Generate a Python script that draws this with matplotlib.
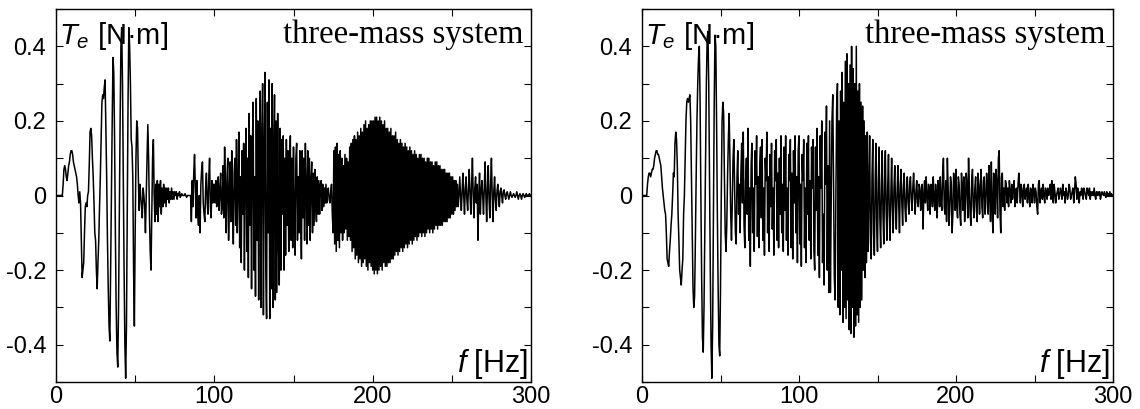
import numpy as np
import matplotlib
matplotlib.use("Agg")
import matplotlib.pyplot as plt
from matplotlib.ticker import MultipleLocator

plt.rcParams['path.simplify'] = False
plt.rcParams['font.family'] = ['Liberation Sans', 'DejaVu Sans']
plt.rcParams['mathtext.fontset'] = 'custom'
plt.rcParams['mathtext.rm'] = 'Liberation Sans'
plt.rcParams['mathtext.it'] = 'Liberation Sans:italic'

# ---- data: electromagnetic torque Te [N·m] sampled every 0.5 Hz, 0..300 Hz ----
left_T = [
    # 0-10
    0, 0, 0, 0, 0, 0, 0, 0, 0, 0.03, 0.07, 0.08, 0.07, 0.05, 0.04, 0.06, 0.08, 0.09, 0.11, 0.12,
    # 10-20
    0.12, 0.11, 0.09, 0.08, 0.07, 0.06, 0.05, 0.03, 0.0, -0.02, 0.01, -0.02, -0.12, -0.22, -0.2, -0.18, -0.1, -0.03, -0.02, -0.03,
    # 20-30
    0.0, 0.01, 0.08, 0.17, 0.18, 0.16, 0.1, 0.05, -0.02, -0.1, -0.12, -0.2, -0.25, -0.18, -0.12, -0.03, 0.05, 0.15, 0.25, 0.27,
    # 30-40
    0.26, 0.29, 0.31, 0.18, 0.05, -0.12, -0.25, -0.35, -0.39, -0.2, 0.0, 0.2, 0.37, 0.33, 0.15, -0.1, -0.3, -0.42, -0.46, -0.3,
    # 40-50
    -0.05, 0.2, 0.4, 0.45, 0.3, 0.05, -0.2, -0.4, -0.49, -0.35, -0.05, 0.25, 0.45, 0.4, 0.3, 0.15, 0.13, 0.05, -0.2, -0.35,
    # 50-60
    -0.1, 0.1, 0.2, 0.18, 0.05, -0.04, 0.03, 0.0, -0.03, -0.06, 0.02, 0.0, -0.03, -0.1, 0.0, 0.1, 0.19, 0.1, -0.05, -0.15,
    # 60-70
    -0.2, -0.05, 0.1, 0.15, 0.0, -0.07, 0.03, -0.05, 0.04, -0.07, 0.03, -0.03, 0.04, -0.05, 0.02, -0.03, 0.03, -0.02, 0.02, -0.03,
    # 70-80
    0.02, -0.01, 0.02, -0.02, 0.01, -0.01, 0.02, -0.01, 0.01, -0.01, 0.01, 0.0, 0.01, -0.01, 0.005, 0.0, 0.01, -0.005, 0.0, 0.005,
    # 80-90
    0, 0, 0, 0.005, 0, -0.005, 0, 0, 0, 0, 0, -0.07, 0.04, -0.03, 0.06, 0.11, 0.02, -0.06, 0.04, -0.05,
    # 90-100
    -0.08, 0.0, -0.1, 0.03, 0.07, 0.09, -0.02, -0.05, -0.07, 0.02, 0.06, -0.02, -0.05, 0.05, 0.1, -0.03, -0.06, 0.04, -0.02, 0.03,
    # 100-110
    0.03, -0.02, 0.04, -0.03, 0.02, 0.05, -0.04, 0.01, 0.06, -0.05, -0.03, 0.08, -0.06, 0.13, 0.02, -0.1, 0.05, 0.1, -0.12, 0.0,
    # 110-120
    0.09, -0.07, 0.12, -0.02, -0.13, 0.06, 0.1, -0.08, 0.15, -0.1, 0.03, 0.17, -0.14, 0.05, -0.18, 0.12, -0.05, 0.14, -0.2, 0.08,
    # 120-130
    0.18, -0.15, 0.1, -0.22, 0.22, -0.08, 0.16, -0.25, 0.12, 0.25, -0.2, 0.05, -0.27, 0.26, -0.12, 0.2, -0.28, 0.1, 0.28, -0.3,
    # 130-140
    0.15, 0.3, -0.32, 0.12, 0.33, -0.2, -0.33, 0.25, -0.1, 0.31, -0.33, 0.18, -0.25, 0.3, -0.3, 0.1, 0.27, -0.28, 0.2, -0.26,
    # 140-150
    0.22, -0.12, -0.24, 0.18, -0.2, 0.15, -0.05, 0.16, -0.2, 0.1, -0.16, 0.15, -0.08, 0.12, -0.15, 0.04, 0.16, -0.12, 0.1, -0.14,
    # 150-160
    0.13, -0.05, -0.16, 0.1, 0.14, -0.12, 0.05, -0.1, 0.12, -0.04, -0.17, 0.12, -0.06, 0.1, -0.12, 0.14, 0.02, -0.13, 0.12, -0.08,
    # 160-170
    0.1, -0.12, 0.04, 0.09, -0.1, 0.06, -0.08, 0.07, -0.03, -0.07, 0.05, -0.05, 0.04, -0.05, 0.03, 0.04, -0.04, 0.03, -0.03, 0.02,
    # 170-180
    -0.02, 0.03, -0.02, 0.01, 0.02, -0.01, -0.02, 0.01, 0.03, -0.05, -0.1, 0.12, -0.13, 0.13, -0.15, 0.14, -0.12, 0.11, -0.14, 0.12,
    # 180-190
    -0.1, 0.1, -0.12, 0.08, -0.1, 0.11, -0.09, 0.1, -0.12, 0.09, -0.11, 0.13, -0.12, 0.14, -0.15, 0.15, -0.14, 0.16, -0.17, 0.15,
    # 190-200
    -0.16, 0.17, -0.18, 0.16, -0.17, 0.18, -0.19, 0.17, -0.18, 0.19, -0.17, 0.2, -0.19, 0.18, -0.2, 0.19, -0.18, 0.2, -0.19, 0.2,
    # 200-210
    -0.2, 0.2, -0.21, 0.21, -0.2, 0.21, -0.21, 0.2, -0.2, 0.21, -0.19, 0.2, -0.2, 0.19, -0.18, 0.2, -0.19, 0.18, -0.19, 0.18,
    # 210-220
    -0.18, 0.17, -0.18, 0.18, -0.17, 0.16, -0.17, 0.16, -0.16, 0.17, -0.15, 0.15, -0.16, 0.14, -0.15, 0.15, -0.14, 0.14, -0.15, 0.13,
    # 220-230
    -0.14, 0.14, -0.13, 0.13, -0.14, 0.12, -0.13, 0.13, -0.12, 0.12, -0.13, 0.11, -0.12, 0.12, -0.11, 0.11, -0.12, 0.1, -0.11, 0.11,
    # 230-240
    -0.1, 0.11, -0.11, 0.1, -0.1, 0.1, -0.11, 0.09, -0.1, 0.1, -0.09, 0.1, -0.1, 0.09, -0.09, 0.09, -0.1, 0.08, -0.09, 0.09,
    # 240-250
    -0.08, 0.09, -0.09, 0.08, -0.08, 0.08, -0.08, 0.07, -0.08, 0.07, -0.07, 0.07, -0.07, 0.06, -0.07, 0.06, -0.06, 0.06, -0.06, 0.05,
    # 250-260
    -0.05, 0.05, -0.05, 0.04, -0.04, 0.04, -0.03, 0.03, -0.03, 0.0, 0.05, 0.0, -0.04, 0.01, 0.06, 0.0, -0.05, 0.02, 0.05, -0.01,
    # 260-270
    -0.04, 0.02, 0.07, 0.0, -0.05, 0.03, 0.1, 0.0, -0.06, 0.02, 0.05, -0.02, 0.03, -0.12, 0.0, 0.06, -0.05, 0.01, 0.04, 0.0,
    # 270-280
    -0.05, 0.02, 0.09, 0.0, -0.07, 0.02, 0.08, -0.01, -0.06, 0.03, 0.1, 0.0, -0.07, 0.01, 0.05, -0.01, -0.04, 0.01, 0.03, 0.0,
    # 280-290
    -0.03, 0.01, 0.02, 0.0, -0.02, 0.01, 0.015, 0.0, -0.01, 0.005, 0.01, 0.0, -0.01, 0.0, 0.01, 0.0, -0.005, 0.0, 0.005, 0.0,
    # 290-300
    -0.005, 0.0, 0.01, 0.0, -0.01, 0.0, 0.005, 0.0, -0.01, 0.0, 0.005, 0.0, -0.005, 0.0, 0.005, 0.0, 0.0, 0.0, 0.005, 0.0,
    0.0,
]

right_T = [
    # 0-10
    0, 0, 0, 0, 0, 0, 0, 0.03, 0.05, 0.06, 0.06, 0.05, 0.06, 0.07, 0.07, 0.08, 0.1, 0.11, 0.12, 0.12,
    # 10-20
    0.11, 0.11, 0.1, 0.09, 0.08, 0.05, 0.02, 0.0, -0.02, -0.04, -0.05, -0.1, -0.17, -0.18, -0.19, -0.15, -0.12, -0.08, -0.05, 0.0,
    # 20-30
    0.06, 0.05, 0.14, 0.17, 0.15, 0.08, -0.05, -0.12, -0.2, -0.22, -0.24, -0.2, -0.17, -0.05, 0.0, 0.1, 0.2, 0.25, 0.26, 0.25,
    # 30-40
    0.26, 0.27, 0.2, 0.05, -0.1, -0.25, -0.3, -0.27, -0.12, 0.05, 0.2, 0.3, 0.37, 0.4, 0.25, 0.0, -0.22, -0.38, -0.42, -0.3,
    # 40-50
    -0.1, 0.1, 0.3, 0.42, 0.44, 0.3, 0.05, -0.2, -0.4, -0.49, -0.35, -0.05, 0.25, 0.43, 0.4, 0.2, -0.05, -0.25, -0.4, -0.43,
    # 50-60
    -0.25, 0.0, 0.2, 0.25, 0.22, 0.05, -0.1, -0.15, -0.08, 0.05, 0.15, 0.22, 0.1, -0.05, -0.12, -0.02, 0.1, 0.15, 0.02, -0.1,
    # 60-70
    -0.13, 0.05, 0.12, -0.05, 0.03, -0.1, 0.06, 0.14, -0.02, 0.17, -0.08, -0.14, 0.04, 0.1, -0.05, 0.18, -0.12, 0.02, -0.19, 0.08,
    # 70-80
    0.14, -0.1, 0.02, -0.15, 0.12, 0.03, 0.16, -0.11, 0.05, -0.14, 0.08, 0.13, -0.06, 0.15, -0.12, 0.02, -0.16, 0.1, 0.04, 0.17,
    # 80-90
    -0.1, 0.05, -0.15, 0.11, -0.03, 0.14, -0.09, 0.02, -0.16, 0.12, 0.04, 0.15, -0.12, 0.06, -0.14, 0.1, -0.05, 0.16, -0.1, 0.03,
    # 90-100
    -0.15, 0.13, -0.04, 0.16, -0.12, 0.02, -0.16, 0.11, 0.04, 0.15, -0.14, 0.06, -0.17, 0.12, -0.02, 0.16, -0.1, 0.05, -0.18, 0.12,
    # 100-110
    0.16, -0.13, 0.03, -0.19, 0.11, 0.04, 0.15, -0.14, 0.02, -0.18, 0.14, -0.05, 0.16, -0.12, 0.04, -0.17, 0.13, 0.02, 0.15, -0.15,
    # 110-120
    -0.2, 0.13, -0.04, 0.18, -0.16, 0.05, -0.22, 0.16, 0.02, 0.2, -0.18, -0.05, -0.24, 0.17, 0.03, 0.24, -0.2, 0.08, -0.26, 0.2,
    # 120-130
    -0.26, -0.02, 0.2, 0.27, 0.04, -0.22, -0.28, 0.0, 0.24, 0.3, -0.3, 0.2, -0.32, 0.28, -0.2, 0.33, -0.34, 0.25, -0.3, 0.36,
    # 130-140
    -0.33, 0.38, -0.28, 0.3, -0.36, 0.35, -0.37, 0.4, -0.3, 0.34, -0.38, 0.3, -0.35, 0.4, -0.32, 0.28, -0.34, 0.3, -0.3, 0.25,
    # 140-150
    -0.28, 0.24, -0.2, 0.2, -0.22, 0.16, -0.18, 0.17, -0.15, 0.02, 0.16, -0.12, -0.17, 0.05, 0.15, -0.1, -0.16, 0.03, 0.14, -0.08,
    # 150-160
    -0.15, 0.04, 0.13, -0.06, -0.14, 0.02, 0.12, -0.05, -0.13, 0.03, 0.12, -0.04, -0.12, 0.02, 0.11, -0.05, -0.12, 0.0, 0.1, -0.03,
    # 160-170
    -0.1, 0.02, 0.08, -0.03, -0.09, 0.01, 0.08, -0.02, -0.1, 0.03, 0.07, -0.02, -0.08, 0.02, 0.06, -0.03, -0.07, 0.01, 0.05, -0.02,
    # 170-180
    -0.05, 0.03, 0.05, -0.01, -0.04, 0.02, 0.06, 0.0, -0.05, 0.01, 0.04, -0.02, -0.03, 0.03, 0.02, -0.04, 0.01, 0.03, -0.09, 0.0,
    # 180-190
    0.04, -0.02, 0.05, 0.0, -0.04, 0.03, 0.02, -0.05, 0.03, 0.01, -0.03, 0.05, -0.01, -0.04, 0.03, 0.0, -0.06, 0.04, 0.02, -0.03,
    # 190-200
    0.05, -0.02, -0.04, 0.06, 0.1, -0.03, -0.05, 0.04, -0.07, 0.1, 0.02, -0.08, -0.04, 0.05, 0.03, -0.1, -0.05, 0.06, 0.02, -0.04,
    # 200-210
    0.07, -0.03, -0.06, 0.05, 0.03, -0.05, -0.08, 0.06, 0.02, -0.04, 0.05, -0.07, -0.02, 0.06, 0.03, -0.06, 0.1, 0.02, -0.05, -0.08,
    # 210-220
    0.04, 0.07, -0.03, -0.06, 0.02, 0.05, -0.04, -0.07, 0.06, 0.03, -0.05, 0.02, 0.07, -0.03, -0.06, 0.04, 0.05, -0.05, -0.02, 0.06,
    # 220-230
    0.02, -0.05, 0.08, 0.0, -0.07, 0.09, -0.03, -0.1, 0.06, 0.04, -0.05, 0.07, 0.03, -0.06, 0.1, 0.12, -0.04, -0.1, 0.05, 0.06,
    # 230-240
    -0.03, 0.02, -0.04, 0.04, 0.03, -0.02, 0.02, -0.03, 0.04, 0.01, -0.02, 0.03, -0.01, 0.02, 0.04, -0.03, 0.01, 0.02, -0.02, 0.03,
    # 240-250
    0.06, 0.02, -0.02, 0.03, 0.01, -0.03, 0.02, 0.03, -0.01, 0.01, 0.02, -0.02, 0.03, 0.0, -0.03, 0.02, 0.01, -0.02, 0.03, 0.01,
    # 250-260
    -0.02, 0.02, 0.01, -0.03, -0.05, 0.03, 0.04, -0.02, 0.01, 0.02, -0.01, 0.03, 0.0, -0.02, 0.02, 0.01, -0.01, 0.02, 0.0, 0.01,
    # 260-270
    0.03, -0.01, 0.04, 0.0, -0.02, 0.03, 0.01, -0.02, 0.0, 0.01, 0.02, -0.01, 0.0, 0.02, 0.01, -0.01, 0.03, 0.0, 0.01, -0.02,
    # 270-280
    0.02, 0.01, -0.01, 0.0, 0.03, 0.02, -0.01, 0.0, 0.01, 0.02, -0.02, 0.01, 0.05, 0.03, -0.01, 0.02, 0.0, -0.02, 0.01, 0.0,
    # 280-290
    0.02, 0.01, -0.01, 0.02, 0.01, 0.0, -0.01, 0.02, 0.01, 0.0, 0.02, -0.01, 0.01, 0.0, 0.01, 0.0, 0.02, 0.0, -0.01, 0.01,
    # 290-300
    0.0, 0.01, 0.0, 0.01, -0.01, 0.0, 0.01, 0.005, 0.0, 0.01, 0.0, -0.005, 0.01, 0.0, 0.005, 0.0, 0.01, 0.0, 0.005, 0.0,
    0.0,
]

f_min, f_max = 0, 300
y_ticks = [-0.4, -0.2, 0.0, 0.2, 0.4]
y_ticklabels = ['-0.4', '-0.2', '0', '0.2', '0.4']
x_ticks = [0, 100, 200, 300]
x_ticklabels = ['0', '100', '200', '300']
panel_title = 'three-mass system'

fig = plt.figure(figsize=(11.4, 4.09), dpi=100)
axes_rects = [
    [56 / 1140, 27 / 409, 475 / 1140, 373 / 409],
    [642 / 1140, 27 / 409, 471 / 1140, 373 / 409],
]

for rect, series in zip(axes_rects, [left_T, right_T]):
    ax = fig.add_axes(rect)
    freq = np.linspace(f_min, f_max, len(series))
    ax.plot(freq, series, color='black', linewidth=1.1)
    ax.set_xlim(f_min, f_max)
    ax.set_ylim(-0.5, 0.5)
    ax.set_xticks(x_ticks)
    ax.set_xticklabels(x_ticklabels)
    ax.set_yticks(y_ticks)
    ax.set_yticklabels(y_ticklabels)
    ax.xaxis.set_minor_locator(MultipleLocator(50))
    ax.yaxis.set_minor_locator(MultipleLocator(0.1))
    ax.tick_params(which='both', direction='in', top=True, right=True,
                   length=5, width=0.8, labelsize=17, colors='black')
    ax.tick_params(axis='x', pad=3)
    ax.tick_params(axis='y', pad=7)
    for s in ax.spines.values():
        s.set_linewidth(1.0)
        s.set_color('black')
    ax.text(0.006, 0.906, r'$T_e$ [N·m]', transform=ax.transAxes,
            ha='left', va='baseline', fontsize=21)
    ax.text(0.985, 0.909, panel_title, transform=ax.transAxes,
            ha='right', va='baseline', fontsize=23.5, family='Liberation Serif')
    ax.text(0.994, 0.027, r'$f$ [Hz]', transform=ax.transAxes,
            ha='right', va='baseline', fontsize=22)

fig.savefig('out.png', dpi=100)
